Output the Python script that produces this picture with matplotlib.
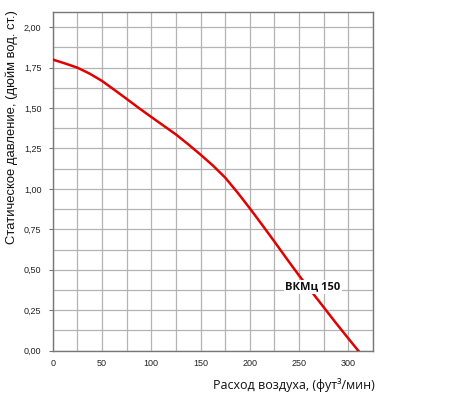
import numpy as np
import matplotlib
matplotlib.use('Agg')
import matplotlib.pyplot as plt
from matplotlib.ticker import MultipleLocator, FuncFormatter

# расход воздуха, фут3/мин
flow = [0, 12.5, 25, 37.5, 50, 62.5, 75, 87.5, 100, 112.5, 125, 137.5, 150,
        162.5, 175, 187.5, 200, 212.5, 225, 237.5, 250, 262.5, 275, 287.5, 300, 310]
# статическое давление, дюйм вод. ст.
pressure = [1.80, 1.776, 1.75, 1.713, 1.668, 1.613, 1.557, 1.50, 1.445, 1.391, 1.337, 1.276, 1.212,
            1.145, 1.07, 0.978, 0.88, 0.778, 0.674, 0.568, 0.464, 0.366, 0.268, 0.17, 0.075, 0.0]
model_name = 'ВКМц 150'

fig = plt.figure(figsize=(4.5, 3.94), dpi=100)
ax = fig.add_axes([0.117, 0.110, 0.712, 0.860])

ax.plot(flow, pressure, color='#e00000', lw=1.8, zorder=3, solid_joinstyle='round')

ax.set_xlim(0, 325)
ax.set_ylim(0, 2.095)
ax.xaxis.set_major_locator(MultipleLocator(50))
ax.xaxis.set_minor_locator(MultipleLocator(25))
ax.yaxis.set_major_locator(MultipleLocator(0.25))
ax.yaxis.set_minor_locator(MultipleLocator(0.125))
ax.yaxis.set_major_formatter(FuncFormatter(lambda v, p: ('%.2f' % v).replace('.', ',')))
ax.grid(True, which='both', color='#b4b4b4', lw=0.9, zorder=0)

for s in ax.spines.values():
    s.set_color('#777777')
    s.set_linewidth(1.0)

ax.tick_params(axis='both', which='major', labelsize=6.5, colors='#777777',
               labelcolor='#222222', length=3, width=0.8, pad=5)
ax.tick_params(axis='both', which='minor', length=0)
ax.tick_params(axis='x', length=0, pad=6)
for lbl in ax.get_xticklabels() + ax.get_yticklabels():
    lbl.set_family('Liberation Sans')

ax.text(264, 0.394, model_name, ha='center', va='center', fontsize=8,
        fontweight='bold', family='Open Sans', color='#111111', zorder=4,
        bbox=dict(facecolor='white', edgecolor='none', pad=1.0))

fig.text(0.026, 0.678, 'Статическое давление, (дюйм вод. ст.)', rotation=90,
         ha='center', va='center', fontsize=9.4, family='Liberation Sans', color='#111111')
fig.text(0.653, 0.022, 'Расход воздуха, (фут³/мин)', ha='center', va='center',
         fontsize=9, family='Open Sans', color='#111111')

fig.savefig('out.png', dpi=100)
